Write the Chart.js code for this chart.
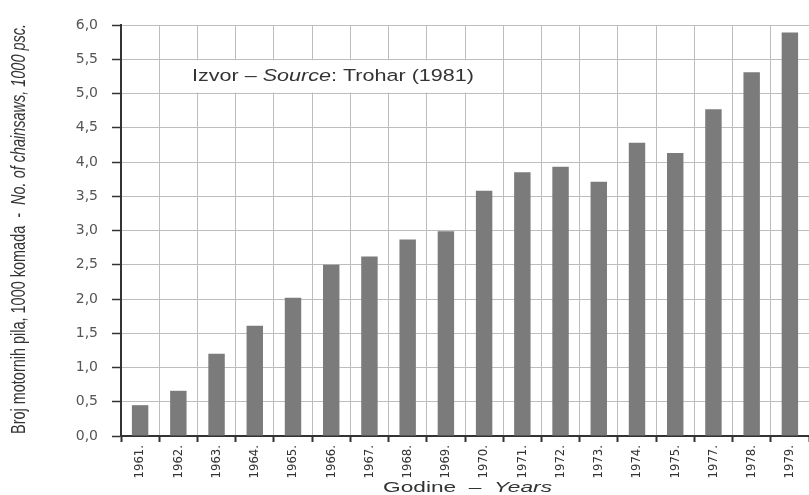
<!DOCTYPE html>
<html>
<head>
<meta charset="utf-8">
<script src="https://cdn.jsdelivr.net/npm/chart.js@4.4.1/dist/chart.umd.min.js"></script>
<style>
  html, body { margin: 0; padding: 0; background: #fff; }
  #wrap { width: 809px; height: 495px; position: relative; }
</style>
</head>
<body>
<div id="wrap"><canvas id="c" width="809" height="495"></canvas></div>
<script>
// ---- data ----
const categories = ['1961.', '1962.', '1963.', '1964.', '1965.', '1966.', '1967.', '1968.', '1969.',
                    '1970.', '1971.', '1972.', '1973.', '1974.', '1975.', '1977.', '1978.', '1979.'];
const chainsaws = [0.45, 0.66, 1.20, 1.61, 2.02, 2.50, 2.62, 2.87, 2.99,
                   3.58, 3.85, 3.93, 3.71, 4.28, 4.13, 4.77, 5.31, 5.89];
const yMin = 0;
const yMax = 6;
const yStep = 0.5;
const yTitleRuns = [['Broj motornih pila, 1000 komada  -  ', false], ['No. of chainsaws, 1000 psc.', true]];
const xTitleRuns = [['Godine', false], ['  –  ', false], ['Years', true]];
const sourceRuns = [['Izvor – ', false], ['Source', true], [': Trohar (1981)', false]];

// ---- helpers ----
function runsWidth(ctx, runs, size, family) {
  let w = 0;
  runs.forEach(([t, it]) => {
    ctx.font = (it ? 'italic ' : '') + size + 'px ' + family;
    w += ctx.measureText(t).width;
  });
  return w;
}
function drawRuns(ctx, runs, size, family, targetW, sy) {
  const w = runsWidth(ctx, runs, size, family);
  const sx = targetW / w;
  ctx.save();
  ctx.scale(sx, sy);
  let x = 0;
  runs.forEach(([t, it]) => {
    ctx.font = (it ? 'italic ' : '') + size + 'px ' + family;
    ctx.fillText(t, x, 0);
    x += ctx.measureText(t).width;
  });
  ctx.restore();
}

const annotations = {
  id: 'annotations',
  beforeDatasetsDraw(chart) {
    const ctx = chart.ctx;
    const y = chart.scales.y;
    // white box behind source note (between 5.0 and 5.5 grid lines)
    const top = y.getPixelForValue(5.5) + 1;
    const bot = y.getPixelForValue(5.0) - 1;
    ctx.save();
    ctx.fillStyle = '#ffffff';
    ctx.fillRect(166, top, 312, bot - top);
    ctx.fillStyle = '#333333';
    ctx.textBaseline = 'alphabetic';
    ctx.translate(192, 81);
    drawRuns(ctx, sourceRuns, 15, '"Liberation Sans", Arial, sans-serif', 282, 1.05);
    ctx.restore();
  },
  afterDraw(chart) {
    const ctx = chart.ctx;
    ctx.save();
    ctx.fillStyle = '#333333';
    ctx.textBaseline = 'alphabetic';
    // x-axis title
    ctx.save();
    ctx.translate(383, 492);
    drawRuns(ctx, xTitleRuns, 14, '"Liberation Sans", Arial, sans-serif', 169, 1.0);
    ctx.restore();
    // y-axis title
    ctx.save();
    ctx.translate(25, 434);
    ctx.rotate(-Math.PI / 2);
    drawRuns(ctx, yTitleRuns, 13, '"Liberation Sans", Arial, sans-serif', 410, 1.6);
    ctx.restore();
    ctx.restore();
  }
};

new Chart(document.getElementById('c'), {
  type: 'bar',
  data: {
    labels: categories,
    datasets: [{
      data: chainsaws,
      backgroundColor: '#7b7b7b',
      borderWidth: 0,
      barPercentage: 0.43,
      categoryPercentage: 1.0
    }]
  },
  options: {
    responsive: false,
    animation: false,
    devicePixelRatio: 1,
    layout: { padding: { top: 25, right: 0, left: 0, bottom: 0 } },
    plugins: {
      legend: { display: false },
      tooltip: { enabled: false },
      title: { display: false }
    },
    scales: {
      x: {
        offset: true,
        grid: {
          offset: true,
          color: '#bdbdbd',
          lineWidth: 1,
          tickLength: 6,
          tickColor: '#333333',
          tickWidth: 2,
          drawOnChartArea: true
        },
        border: { color: '#333333', width: 2 },
        ticks: {
          autoSkip: false,
          maxRotation: 90,
          minRotation: 90,
          padding: 3,
          color: '#333333',
          font: { family: '"Liberation Sans Narrow", "DejaVu Sans Condensed", "Arial Narrow", sans-serif', size: 13 }
        },
        afterFit(scale) { scale.height = 59; }
      },
      y: {
        min: yMin,
        max: yMax,
        grid: {
          color: '#bdbdbd',
          lineWidth: 1,
          tickLength: 9,
          tickColor: '#333333',
          tickWidth: 1.5
        },
        border: { color: '#333333', width: 2 },
        ticks: {
          stepSize: yStep,
          padding: 14,
          color: '#555555',
          font: { family: '"DejaVu Sans", sans-serif', size: 14 },
          callback: (v) => Number(v).toFixed(1).replace('.', ',')
        },
        afterFit(scale) { scale.width = 121; }
      }
    }
  },
  plugins: [annotations]
});
</script>
</body>
</html>
